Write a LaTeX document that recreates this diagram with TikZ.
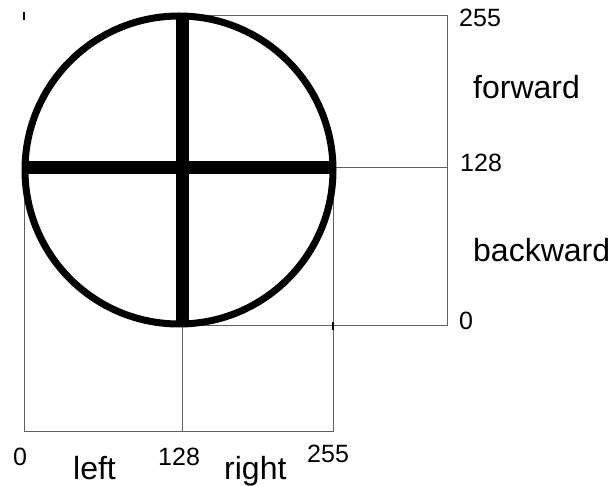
\documentclass[tikz,border=0pt]{standalone}
\usepackage{fontspec}
\setmainfont{Liberation Sans}
\begin{document}
\begin{tikzpicture}[x=1pt,y=-1pt,
  thin line/.style={draw=black!62,line width=1pt},
  tick mark/.style={draw=black,line width=1.3pt},
  numlabel/.style={anchor=base west,inner sep=0pt,font=\fontsize{25}{30}\selectfont},
  wordlabel/.style={anchor=base west,inner sep=0pt,font=\fontsize{32}{38}\selectfont},
  wheel/.style={draw=black,line width=7pt},
  bar/.style={draw=black,line width=13pt}]
\useasboundingbox (0,0) rectangle (611,486);
% grid coordinates
\coordinate (bl) at (24,432);
\coordinate (bm) at (182,432);
\coordinate (br) at (333,432);
\coordinate (lt) at (24,170);
\coordinate (mt) at (182,326);
\coordinate (rt) at (333,168);
\coordinate (ct) at (182,16);
\coordinate (yt) at (447,16);
\coordinate (ym) at (447,168);
\coordinate (yb) at (447,326);
\coordinate (cb) at (182,326);
% thin axis lines
\draw[thin line] (lt) -- (bl) -- (br) -- (rt) -- (ym);
\draw[thin line] (mt) -- (bm);
\draw[thin line] (ct) -- (yt) -- (yb) -- (cb);
% ticks
\coordinate (t1a) at (24,12);
\coordinate (t1b) at (24,20);
\coordinate (t2a) at (333,322);
\coordinate (t2b) at (333,330);
\draw[tick mark] (t1a) -- (t1b);
\draw[tick mark] (t2a) -- (t2b);
% wheel
\coordinate (c) at (179,170);
\coordinate (vt) at (182,16);
\coordinate (vb) at (182,324);
\coordinate (hl) at (25,168);
\coordinate (hr) at (333,168);
\draw[bar] (vt) -- (vb);
\draw[bar] (hl) -- (hr);
\draw[wheel] (c) circle[radius=154];
% labels
\node[numlabel] (n255r) at (459,27) {255};
\node[wordlabel] (fwd) at (473,99) {forward};
\node[numlabel] (n128r) at (460,172) {128};
\node[wordlabel] (bwd) at (473,262) {backward};
\node[numlabel] (n0r) at (459,330) {0};
\node[numlabel] (n0b) at (13,465) {0};
\node[wordlabel] (lft) at (73,479) {left};
\node[numlabel] (n128b) at (158,465) {128};
\node[wordlabel] (rgt) at (224,479) {right};
\node[numlabel] (n255b) at (307,463) {255};
\end{tikzpicture}
\end{document}
